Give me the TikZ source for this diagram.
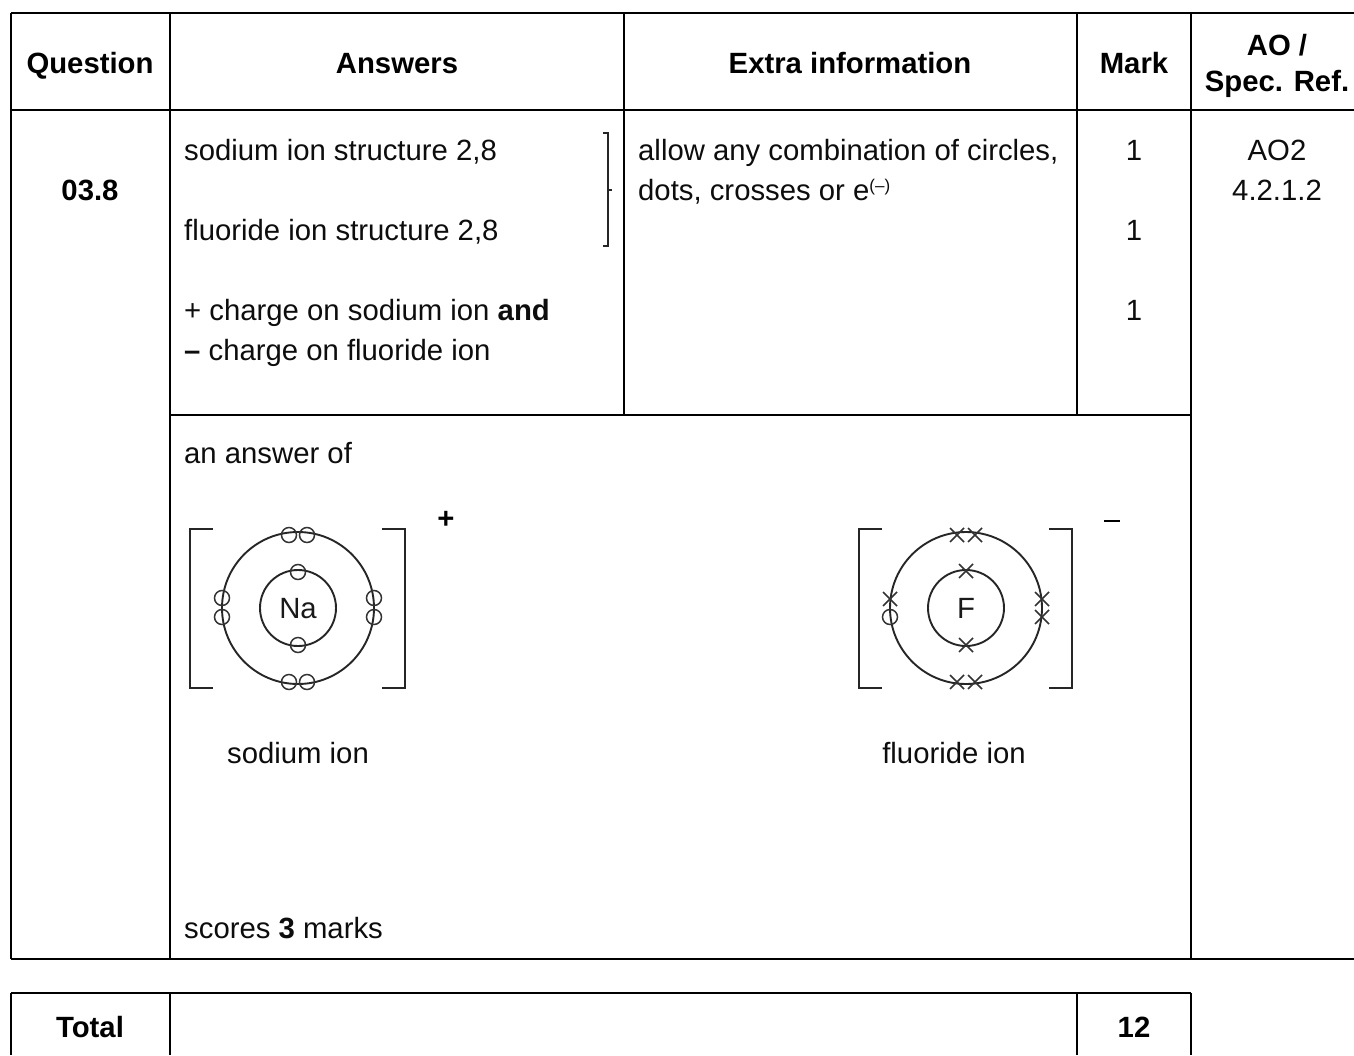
\documentclass[tikz,border=0pt]{standalone}
\usepackage{fontspec}
\setmainfont{Liberation Sans}
\tikzset{
  rule/.style={line width=2.4pt,black},
  thin rule/.style={line width=2pt,black!85},
  shell/.style={line width=1.9pt,black!85},
  electron/.style={line width=1.5pt,black!80},
  txt/.style={inner sep=0pt,anchor=base west,align=left,font=\fontsize{29.3}{40}\selectfont,text=black!95},
  head/.style={inner sep=0pt,anchor=base,align=center,font=\fontsize{29.3}{36}\selectfont\bfseries,text=black},
  ctr/.style={inner sep=0pt,anchor=base,align=center,font=\fontsize{29.3}{40}\selectfont,text=black!95},
}
\newcommand{\xmark}[2]{\draw[electron] (#1-7,#2-7) -- (#1+7,#2+7) (#1-7,#2+7) -- (#1+7,#2-7);}
\newcommand{\omark}[2]{\draw[electron] (#1,#2) circle (7.5);}
\begin{document}
\begin{tikzpicture}[x=1pt,y=-1pt]
\useasboundingbox (0,0) rectangle (1354,1055);
\fill[white] (0,0) rectangle (1354,1055);
% table rules
\draw[rule] (11,13) -- (1354,13);
\draw[rule] (11,110) -- (1354,110);
\draw[rule] (11,959) -- (1354,959);
\draw[rule] (11,13) -- (11,959);
\draw[rule] (170,13) -- (170,959);
\draw[rule] (624,13) -- (624,415);
\draw[rule] (1077,13) -- (1077,415);
\draw[rule] (1191,13) -- (1191,959);
\draw[rule] (170,415) -- (1191,415);
\draw[rule] (11,993) -- (1191,993);
\draw[rule] (11,993) -- (11,1055);
\draw[rule] (170,993) -- (170,1055);
\draw[rule] (1077,993) -- (1077,1055);
\draw[rule] (1191,993) -- (1191,1055);
% headers
\node[head] (hq) at (90,73) {Question};
\node[head] (ha) at (397,73) {Answers};
\node[head] (he) at (850,73) {Extra information};
\node[head] (hm) at (1134,73) {Mark};
\node[head] (hao) at (1277,91) {AO /\\Spec. Ref.};
% row
\node[head] (q) at (90,200) {03.8};
\node[txt] (a1) at (184,160) {sodium ion structure 2,8};
\node[txt] (a2) at (184,240) {fluoride ion structure 2,8};
\node[txt] (a3) at (184,360) {+ charge on sodium ion \textbf{and}\\\textbf{–} charge on fluoride ion};
\node[txt] (ex) at (638,200) {allow any combination of circles,\\dots, crosses or e\raisebox{9pt}{\fontsize{17}{17}\selectfont(–)}};
\node[ctr] (m1) at (1134,160) {1};
\node[ctr] (m2) at (1134,240) {1};
\node[ctr] (m3) at (1134,320) {1};
\node[ctr] (ao) at (1277,200) {AO2\\4.2.1.2};
% brace
\draw[thin rule] (603,133) -- (608,133) -- (608,246) -- (603,246);
\draw[thin rule] (608,190) -- (612,190);
\node[txt] (ans) at (184,463) {an answer of};
\node[txt] (sc) at (184,938) {scores \textbf{3} marks};
% Na
\draw[thin rule] (213,529) -- (190,529) -- (190,688) -- (213,688);
\draw[thin rule] (382,529) -- (405,529) -- (405,688) -- (382,688);
\draw[shell] (298,608) circle (76) (298,608) circle (38);
\node[inner sep=0pt,font=\fontsize{29.3}{30}\selectfont,text=black!90] (na) at (298,608.5) {Na};
\foreach \p in {(289,535),(307,535),(298,572),(298,645),(222,598),(222,617),(374,598),(374,617),(289,682),(307,682)}
  \draw[electron] \p circle (7.5);
\node[inner sep=0pt,font=\fontsize{29.3}{30}\selectfont\bfseries] (plus) at (446,520) {+};
\node[ctr] (nal) at (298,763) {sodium ion};
% F
\draw[thin rule] (882,529) -- (859,529) -- (859,688) -- (882,688);
\draw[thin rule] (1049,529) -- (1072,529) -- (1072,688) -- (1049,688);
\draw[shell] (966,608) circle (76) (966,608) circle (38);
\node[inner sep=0pt,font=\fontsize{29.3}{30}\selectfont,text=black!90] (f) at (966,608) {F};
\xmark{957}{535}\xmark{975}{535}\xmark{966}{571}\xmark{966}{645}
\xmark{890}{599}\omark{890}{617}\xmark{1042}{599}\xmark{1042}{617}
\xmark{957}{682}\xmark{975}{682}
\draw[line width=2.8pt] (1104,521) -- (1120,521);
\node[ctr] (fl) at (954,763) {fluoride ion};
% total
\node[head] (tot) at (90,1037) {Total};
\node[head] (twelve) at (1134,1037) {12};
\end{tikzpicture}
\end{document}
